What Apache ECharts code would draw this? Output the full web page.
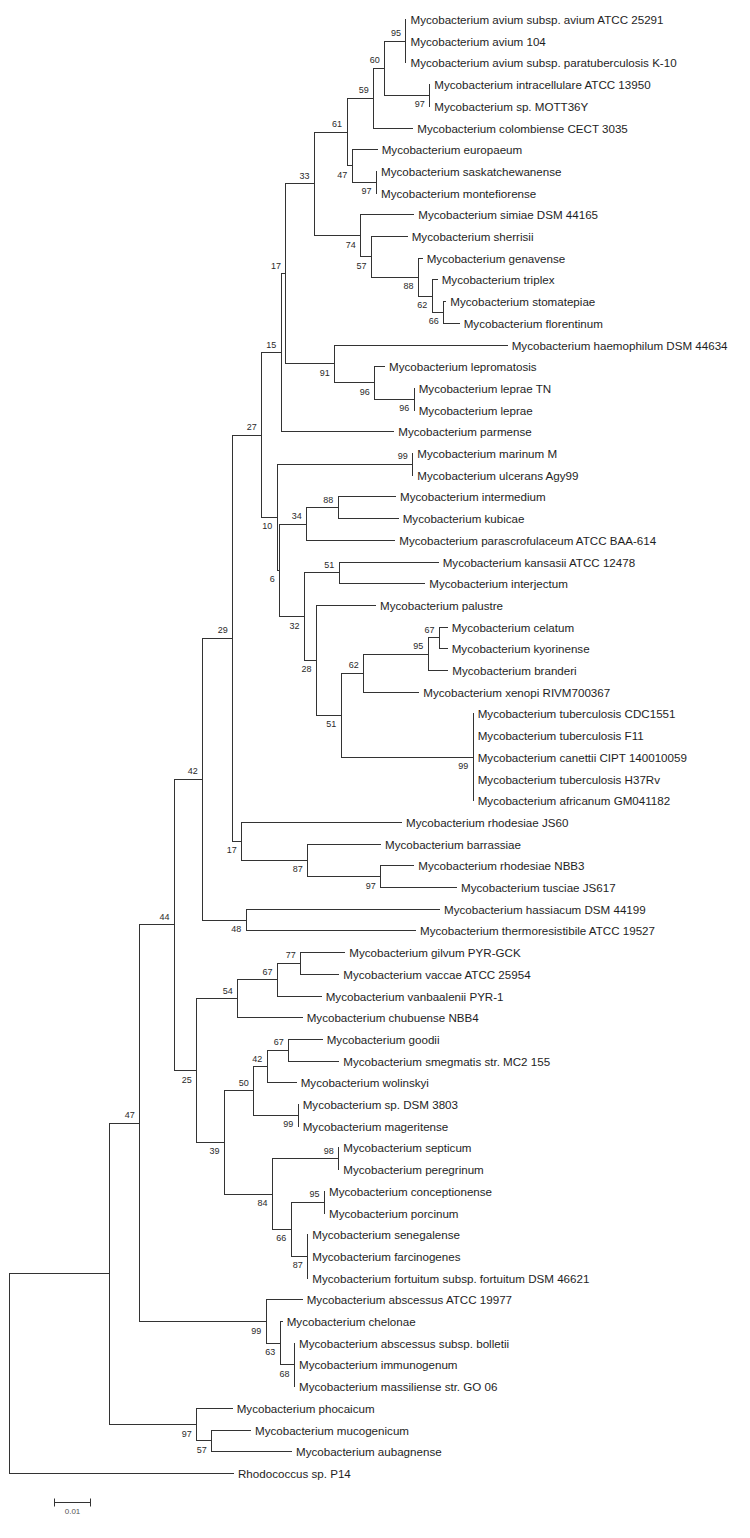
<!DOCTYPE html>
<html><head><meta charset="utf-8">
<script src="https://cdn.jsdelivr.net/npm/echarts@6/dist/echarts.min.js"></script>
<style>html,body{margin:0;padding:0;background:#fff}#chart{width:750px;height:1538px}</style>
</head><body><div id="chart"></div>
<script>
// ---- DATA ----
const taxa = [
"Mycobacterium avium subsp. avium ATCC 25291",
"Mycobacterium avium 104",
"Mycobacterium avium subsp. paratuberculosis K-10",
"Mycobacterium intracellulare ATCC 13950",
"Mycobacterium sp. MOTT36Y",
"Mycobacterium colombiense CECT 3035",
"Mycobacterium europaeum",
"Mycobacterium saskatchewanense",
"Mycobacterium montefiorense",
"Mycobacterium simiae DSM 44165",
"Mycobacterium sherrisii",
"Mycobacterium genavense",
"Mycobacterium triplex",
"Mycobacterium stomatepiae",
"Mycobacterium florentinum",
"Mycobacterium haemophilum DSM 44634",
"Mycobacterium lepromatosis",
"Mycobacterium leprae TN",
"Mycobacterium leprae",
"Mycobacterium parmense",
"Mycobacterium marinum M",
"Mycobacterium ulcerans Agy99",
"Mycobacterium intermedium",
"Mycobacterium kubicae",
"Mycobacterium parascrofulaceum ATCC BAA-614",
"Mycobacterium kansasii ATCC 12478",
"Mycobacterium interjectum",
"Mycobacterium palustre",
"Mycobacterium celatum",
"Mycobacterium kyorinense",
"Mycobacterium branderi",
"Mycobacterium xenopi RIVM700367",
"Mycobacterium tuberculosis CDC1551",
"Mycobacterium tuberculosis F11",
"Mycobacterium canettii CIPT 140010059",
"Mycobacterium tuberculosis H37Rv",
"Mycobacterium africanum GM041182",
"Mycobacterium rhodesiae JS60",
"Mycobacterium barrassiae",
"Mycobacterium rhodesiae NBB3",
"Mycobacterium tusciae JS617",
"Mycobacterium hassiacum DSM 44199",
"Mycobacterium thermoresistibile ATCC 19527",
"Mycobacterium gilvum PYR-GCK",
"Mycobacterium vaccae ATCC 25954",
"Mycobacterium vanbaalenii PYR-1",
"Mycobacterium chubuense NBB4",
"Mycobacterium goodii",
"Mycobacterium smegmatis str. MC2 155",
"Mycobacterium wolinskyi",
"Mycobacterium sp. DSM 3803",
"Mycobacterium mageritense",
"Mycobacterium septicum",
"Mycobacterium peregrinum",
"Mycobacterium conceptionense",
"Mycobacterium porcinum",
"Mycobacterium senegalense",
"Mycobacterium farcinogenes",
"Mycobacterium fortuitum subsp. fortuitum DSM 46621",
"Mycobacterium abscessus ATCC 19977",
"Mycobacterium chelonae",
"Mycobacterium abscessus subsp. bolletii",
"Mycobacterium immunogenum",
"Mycobacterium massiliense str. GO 06",
"Mycobacterium phocaicum",
"Mycobacterium mucogenicum",
"Mycobacterium aubagnense",
"Rhodococcus sp. P14"
];
// distance of each tip from the root (substitutions/site)
const taxonDepth = [
0.10931,0.10931,0.10931,0.11587,0.11587,0.11118,0.10138,0.10118,0.10118,0.11146,
0.10964,0.11377,0.11791,0.12028,0.12397,0.13719,0.10339,0.11157,0.11157,0.10595,
0.11118,0.11118,0.10642,0.10716,0.10623,0.11818,0.11449,0.10091,0.12066,0.12066,
0.12083,0.11284,0.12782,0.12782,0.12782,0.12782,0.12782,0.10807,0.10229,0.11146,
0.12322,0.11854,0.11193,0.09245,0.09080,0.08595,0.08072,0.08623,0.09080,0.07906,
0.07961,0.07961,0.09080,0.09080,0.08686,0.08686,0.08226,0.08226,0.08226,0.08072,
0.07521,0.07860,0.07860,0.07860,0.06143,0.06647,0.07777,0.06179
];
// internal clades: first tip, last tip, distance from root, bootstrap support
const cladeFirst = [0,0,0,0,0,0,0,0,0,0,0,0,0,0,3,6,7,9,10,11,12,13,15,16,17,20,20,22,22,22,25,25,27,28,28,28,28,32,37,38,39,41,43,43,43,43,47,47,47,47,50,52,52,54,54,56,59,60,61,64,65];
const cladeLast  = [67,66,63,58,42,40,36,19,18,14,8,5,4,2,4,8,8,14,14,14,14,14,18,18,18,36,21,36,24,23,36,26,36,36,31,30,29,36,40,40,40,42,58,46,45,44,58,51,49,48,51,58,53,58,55,58,63,63,63,66,66];
const cladeDepth = [0,0.02771,0.03598,0.04554,0.05333,0.06160,0.06959,0.07493,0.07625,0.08410,0.09306,0.10044,0.10347,0.10931,0.11587,0.09449,0.10118,0.09686,0.09981,0.11275,0.11653,0.11972,0.08967,0.10072,0.11157,0.07383,0.11118,0.07455,0.08198,0.09063,0.08135,0.09091,0.08466,0.09146,0.09769,0.11543,0.11854,0.12782,0.06408,0.08226,0.10237,0.06529,0.05168,0.06298,0.07391,0.08033,0.05931,0.06738,0.07107,0.07702,0.07961,0.07253,0.09080,0.07769,0.08686,0.08226,0.07080,0.07466,0.07860,0.05168,0.05581];
const cladeSupport = [null,null,47,44,42,29,27,15,17,33,61,59,60,95,97,47,97,74,57,88,62,66,91,96,96,10,99,6,34,88,32,51,28,51,62,95,67,99,17,87,97,48,25,54,67,77,39,50,42,67,99,84,98,66,95,87,99,63,68,97,57];
const scaleLength = 0.01;
const scaleLabel = "0.01";

// ---- LAYOUT CONSTANTS ----
const X_MIN = -0.0024, X_MAX = 0.20422;
const Y_MIN = -0.8756, Y_MAX = 70.0;
const SCALE_START = 0.01248, SCALE_ROW = 68.35;
const FONT = '"Liberation Sans", Arial, Helvetica, sans-serif';

// ---- BUILD TREE ----
const nodes = [];
taxa.forEach((n, i) => nodes.push({first: i, last: i, depth: taxonDepth[i], leaf: true, idx: i, children: []}));
cladeFirst.forEach((f, k) => nodes.push({first: f, last: cladeLast[k], depth: cladeDepth[k], support: cladeSupport[k], leaf: false, children: []}));
nodes.forEach(nd => {
  let best = null;
  const ns = nd.last - nd.first;
  nodes.forEach(c => {
    if (c.leaf || c === nd) return;
    const cs = c.last - c.first;
    if (c.first <= nd.first && c.last >= nd.last && cs > ns && (!best || cs < best.last - best.first)) best = c;
  });
  nd.parent = best;
  if (best) best.children.push(nd);
});
function setY(nd) {
  if (nd.leaf) { nd.y = nd.first; return nd.y; }
  nd.children.sort((a, b) => a.first - b.first);
  nd.children.forEach(setY);
  nd.y = (nd.children[0].y + nd.children[nd.children.length - 1].y) / 2;
  return nd.y;
}
const root = nodes.find(n => !n.parent);
setY(root);

const branchData = [];
const supportData = [];
nodes.forEach(nd => {
  if (nd.parent) branchData.push([nd.parent.depth, nd.y, nd.depth, nd.y]);
  if (!nd.leaf) {
    branchData.push([nd.depth, nd.children[0].y, nd.depth, nd.children[nd.children.length - 1].y]);
    if (nd.support != null) {
      const above = nd.parent && nd.parent.children[0] === nd ? 1 : 0;
      supportData.push([nd.depth, nd.y, nd.support, above]);
    }
  }
});
const leafData = nodes.filter(n => n.leaf).map(n => [n.depth, n.y, n.idx]);

const crisp = v => Math.round(v) + 0.5;

const chart = echarts.init(document.getElementById('chart'), null, {renderer: 'svg'});
chart.setOption({
  animation: false,
  backgroundColor: '#fff',
  grid: {left: 0, right: 0, top: 0, bottom: 0, show: false},
  xAxis: {type: 'value', min: X_MIN, max: X_MAX, show: false, splitLine: {show: false}},
  yAxis: {type: 'value', min: Y_MIN, max: Y_MAX, inverse: true, show: false, splitLine: {show: false}},
  series: [
    {
      type: 'custom', name: 'branches', clip: false, silent: true,
      data: branchData,
      encode: {x: [0, 2], y: [1, 3]},
      renderItem: (params, api) => {
        const a = api.coord([api.value(0), api.value(1)]);
        const b = api.coord([api.value(2), api.value(3)]);
        return {type: 'line', shape: {x1: crisp(a[0]), y1: crisp(a[1]), x2: crisp(b[0]), y2: crisp(b[1])},
          style: {stroke: '#333', lineWidth: 1, lineCap: 'square'}};
      }
    },
    {
      type: 'custom', name: 'taxa', clip: false, silent: true,
      data: leafData,
      encode: {x: 0, y: 1},
      renderItem: (params, api) => {
        const p = api.coord([api.value(0), api.value(1)]);
        return {type: 'text', x: p[0] + 5, y: p[1] + 0.5,
          style: {text: taxa[api.value(2)], fill: '#1e1e1e', fontSize: 11.6, fontFamily: FONT, align: 'left', verticalAlign: 'middle'}};
      }
    },
    {
      type: 'custom', name: 'support', clip: false, silent: true,
      data: supportData,
      encode: {x: 0, y: 1},
      renderItem: (params, api) => {
        const p = api.coord([api.value(0), api.value(1)]);
        const above = api.value(3) === 1;
        return {type: 'text', x: p[0] - 4.5, y: p[1] + (above ? -7.5 : 9.5),
          style: {text: String(api.value(2)), fill: '#2a2a2a', fontSize: 9, fontFamily: FONT, align: 'right', verticalAlign: 'middle'}};
      }
    },
    {
      type: 'custom', name: 'scale', clip: false, silent: true,
      data: [[SCALE_START, SCALE_ROW, SCALE_START + scaleLength]],
      renderItem: (params, api) => {
        const a = api.coord([api.value(0), api.value(1)]);
        const b = api.coord([api.value(2), api.value(1)]);
        const y = crisp(a[1]);
        const x1 = crisp(a[0]), x2 = crisp(b[0]);
        return {type: 'group', children: [
          {type: 'line', shape: {x1: x1, y1: y, x2: x2, y2: y}, style: {stroke: '#333', lineWidth: 1}},
          {type: 'line', shape: {x1: x1, y1: y - 4, x2: x1, y2: y + 4}, style: {stroke: '#333', lineWidth: 1}},
          {type: 'line', shape: {x1: x2, y1: y - 4, x2: x2, y2: y + 4}, style: {stroke: '#333', lineWidth: 1}},
          {type: 'text', x: (x1 + x2) / 2, y: y + 9,
            style: {text: scaleLabel, fill: '#555', fontSize: 8, fontFamily: FONT, align: 'center', verticalAlign: 'middle'}}
        ]};
      }
    }
  ]
});
</script>
</body></html>
